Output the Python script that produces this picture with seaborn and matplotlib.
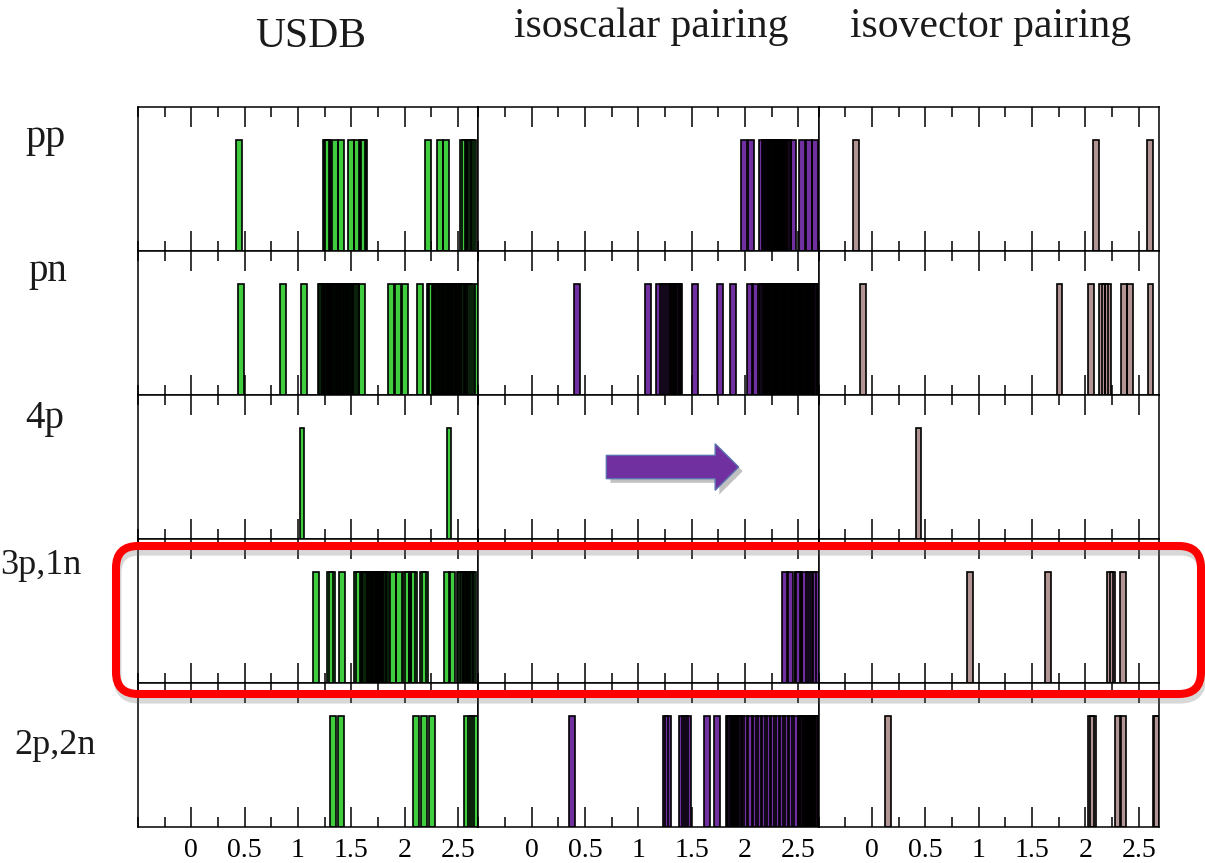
import numpy as np
import pandas as pd
import matplotlib
matplotlib.use("Agg")
import matplotlib.pyplot as plt
import matplotlib.patheffects as pe
from matplotlib.patches import FancyArrow, FancyBboxPatch
from matplotlib.transforms import IdentityTransform
from matplotlib.ticker import MultipleLocator
import seaborn as sns

# Facet layout
models = ["USDB", "isoscalar pairing", "isovector pairing"]
channels = ["pp", "pn", "4p", "3p,1n", "2p,2n"]
energy_ticks = [0, 0.5, 1, 1.5, 2, 2.5]
energy_tick_labels = ["0", "0.5", "1", "1.5", "2", "2.5"]

# Level energies (MeV) -- USDB
usdb_pp = [0.45, 1.265, 1.275, 1.285, 1.345, 1.405, 1.50, 1.552, 1.60, 1.61,
           1.62, 2.22, 2.332, 2.388, 2.55, 2.56, 2.59, 2.60, 2.625, 2.64]
usdb_pn = [0.462, 0.856, 1.06,
           1.215, 1.225, 1.24, 1.25, 1.265, 1.275, 1.29, 1.31, 1.325, 1.34,
           1.35, 1.365, 1.38, 1.39, 1.405, 1.42, 1.43, 1.445, 1.46, 1.475,
           1.49, 1.51, 1.525, 1.54, 1.60,
           1.868, 1.94, 2.005, 2.143,
           2.235, 2.245, 2.26, 2.28, 2.29, 2.31, 2.33, 2.345, 2.36, 2.375,
           2.39, 2.41, 2.42, 2.435, 2.45, 2.465, 2.48, 2.495, 2.51, 2.525,
           2.54, 2.555, 2.58, 2.60, 2.625, 2.687]
usdb_4p = [1.037, 2.415]
usdb_3p1n = [1.168, 1.30, 1.315, 1.41, 1.55, 1.575, 1.62, 1.635, 1.66, 1.67,
             1.685, 1.70, 1.71, 1.72, 1.735, 1.75, 1.76, 1.77, 1.785, 1.80,
             1.81, 1.825, 1.893, 1.95, 2.01, 2.03, 2.065, 2.09, 2.17, 2.19,
             2.40, 2.446, 2.52, 2.53, 2.545, 2.555, 2.57, 2.58, 2.60, 2.61,
             2.625, 2.64]
usdb_2p2n = [1.327, 1.402, 2.102, 2.177, 2.255, 2.585, 2.62, 2.655]

# Level energies (MeV) -- isoscalar pairing
iso_pp = [1.99, 2.055, 2.158, 2.185, 2.20, 2.21, 2.22, 2.235, 2.245, 2.26,
          2.27, 2.28, 2.295, 2.305, 2.32, 2.33, 2.34, 2.355, 2.365, 2.375,
          2.39, 2.40, 2.455, 2.53, 2.60, 2.655]
iso_pn = [0.423, 1.087, 1.19, 1.235, 1.265, 1.31, 1.32, 1.33, 1.34, 1.35,
          1.36, 1.37, 1.385, 1.53, 1.765, 1.884, 2.043, 2.093,
          2.16, 2.17, 2.185, 2.195, 2.21, 2.22, 2.235, 2.245, 2.26, 2.27,
          2.285, 2.295, 2.31, 2.32, 2.335, 2.345, 2.36, 2.37, 2.385, 2.395,
          2.41, 2.42, 2.435, 2.445, 2.46, 2.47, 2.485, 2.495, 2.51, 2.52,
          2.535, 2.545, 2.56, 2.57, 2.585, 2.595, 2.61, 2.62, 2.635, 2.645,
          2.66, 2.67]
iso_4p = []
iso_3p1n = [2.378, 2.42, 2.492, 2.50, 2.51, 2.56, 2.60, 2.64, 2.665]
iso_2p2n = [0.375, 1.255, 1.275, 1.405, 1.44, 1.47, 1.64, 1.735,
            1.85, 1.86, 1.87, 1.885, 1.895, 1.91, 1.92, 1.935, 1.945, 1.96,
            2.00, 2.045, 2.09, 2.13, 2.175, 2.215, 2.26, 2.30, 2.345, 2.385,
            2.43, 2.47, 2.52, 2.53, 2.545, 2.555, 2.57, 2.58, 2.595, 2.605,
            2.62, 2.63, 2.645, 2.655, 2.67, 2.68]

# Level energies (MeV) -- isovector pairing
iv_pp = [-0.147, 2.102, 2.608]
iv_pn = [-0.083, 1.758, 2.05, 2.16, 2.185, 2.215, 2.365, 2.415, 2.61]
iv_4p = [0.437]
iv_3p1n = [0.921, 1.653, 2.235, 2.255, 2.35]
iv_2p2n = [0.147, 2.05, 2.07, 2.305, 2.35, 2.66, 2.675]

levels = {
    ("USDB", "pp"): usdb_pp, ("USDB", "pn"): usdb_pn, ("USDB", "4p"): usdb_4p,
    ("USDB", "3p,1n"): usdb_3p1n, ("USDB", "2p,2n"): usdb_2p2n,
    ("isoscalar pairing", "pp"): iso_pp, ("isoscalar pairing", "pn"): iso_pn,
    ("isoscalar pairing", "4p"): iso_4p, ("isoscalar pairing", "3p,1n"): iso_3p1n,
    ("isoscalar pairing", "2p,2n"): iso_2p2n,
    ("isovector pairing", "pp"): iv_pp, ("isovector pairing", "pn"): iv_pn,
    ("isovector pairing", "4p"): iv_4p, ("isovector pairing", "3p,1n"): iv_3p1n,
    ("isovector pairing", "2p,2n"): iv_2p2n,
}

records = [
    {"model": m, "channel": c, "energy": e, "strength": 1.0}
    for (m, c), energies in levels.items() for e in energies
]
df = pd.DataFrame(records)

palette = {"USDB": "#3fcc3f", "isoscalar pairing": "#7030a0",
           "isovector pairing": "#b39494"}
bar_width = {"4p": 0.04}

sns.set_theme(style="ticks")
plt.rcParams["font.family"] = ["Liberation Serif", "DejaVu Serif"]


def draw_levels(data, color=None, label=None, **kws):
    ax = plt.gca()
    w = bar_width.get(data["channel"].iloc[0], 0.055)
    # fills first, outlines on top so that dense level groups turn dark
    ax.bar(data["energy"], data["strength"], width=w, color=color,
           edgecolor="none", linewidth=0)
    ax.bar(data["energy"], data["strength"], width=w, fill=False,
           edgecolor="black", linewidth=1.2)


g = sns.FacetGrid(df, row="channel", col="model", row_order=channels,
                  col_order=models, hue="model", palette=palette,
                  sharex=True, sharey=True, despine=False,
                  height=1.6, aspect=2.4, xlim=(-0.5, 2.69), ylim=(0, 1.3))
g.map_dataframe(draw_levels)
g.set_titles(template="")
g.set_axis_labels("", "")

fig = g.figure
fig.set_size_inches(12.05, 8.63)
fig.set_dpi(100)
fig.subplots_adjust(left=0.1145, right=0.9618, top=0.876, bottom=0.0417,
                    wspace=0, hspace=0)

for ax in g.axes.flat:
    ax.set_xlim(-0.5, 2.69)
    ax.set_ylim(0, 1.3)
    ax.set_yticks([])
    ax.set_xticks(energy_ticks)
    ax.set_xticklabels(energy_tick_labels)
    ax.xaxis.set_minor_locator(MultipleLocator(0.25))
    ax.tick_params(axis="x", which="major", direction="in", length=14.5,
                   width=1.1, top=True, bottom=True, color="black",
                   labelsize=20, pad=8, labelcolor="black")
    ax.tick_params(axis="x", which="minor", direction="in", length=7.5,
                   width=1.1, top=True, bottom=True, color="black")
    for sp in ax.spines.values():
        sp.set_color("black")
        sp.set_linewidth(1.1)
        sp.set_visible(True)

# Column headers
W, H = 1205.0, 863.0
header_pos = {"USDB": (311, 37), "isoscalar pairing": (651, 27),
              "isovector pairing": (990, 27)}
for m in models:
    x, y = header_pos[m]
    fig.text(x / W, 1 - y / H, m, ha="center", va="center", fontsize=30,
             color="#1a1a1a")

# Row labels
row_style = {"pp": (25, 137, 29), "pn": (28, 271, 28), "4p": (25, 418, 28),
             "3p,1n": (0, 566, 26), "2p,2n": (14, 746, 26)}
for c in channels:
    x, y, fs = row_style[c]
    fig.text(x / W, 1 - y / H, c, ha="left", va="center", fontsize=fs,
             color="#1a1a1a")

# Arrow in the empty isoscalar 4p panel
ax_arrow = g.axes[channels.index("4p"), models.index("isoscalar pairing")]
arrow = FancyArrow(0.70, 0.65, 1.24, 0, width=0.21, head_width=0.42,
                   head_length=0.22, length_includes_head=True,
                   facecolor="#7030a0", edgecolor="#5a70b0", linewidth=1.0,
                   zorder=5)
arrow.set_path_effects([pe.SimplePatchShadow(offset=(3, -3), alpha=0.4,
                                             shadow_rgbFace="#666666"),
                        pe.Normal()])
ax_arrow.add_patch(arrow)

# Red frame highlighting the 3p,1n row
frame = FancyBboxPatch((116, H - 694), 1085, 148,
                       boxstyle="round,pad=0,rounding_size=22",
                       transform=IdentityTransform(), fill=False,
                       edgecolor="#ff0000", linewidth=5.8, zorder=10)
frame.set_path_effects([pe.SimpleLineShadow(offset=(1, -4), alpha=0.25,
                                            shadow_color="#666666"),
                        pe.Normal()])
fig.add_artist(frame)

fig.savefig("out.png", dpi=100)
